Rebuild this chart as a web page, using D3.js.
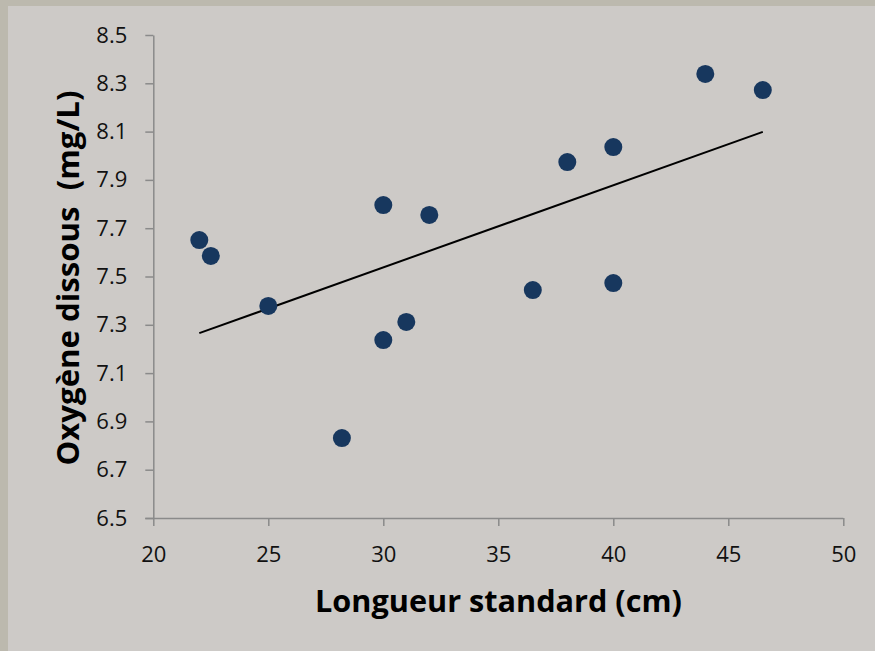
<!DOCTYPE html>
<html>
<head>
<meta charset="utf-8">
<script src="https://cdn.jsdelivr.net/npm/d3@7"></script>
<style>
  html, body { margin: 0; padding: 0; background: #cdcac7; }
  svg { display: block; }
</style>
</head>
<body>
<svg id="chart" width="875" height="651"></svg>
<script>
// Standard length (cm) and dissolved oxygen (mg/L) per sample
const longueur = [22, 22.5, 25, 28.2, 30, 30, 31, 32, 36.5, 38, 40, 40, 44, 46.5];
const oxygene = [7.651, 7.585, 7.378, 6.831, 7.796, 7.237, 7.312, 7.755, 7.444, 7.974, 8.036, 7.473, 8.339, 8.272];

const xTicks = [20, 25, 30, 35, 40, 45, 50];
const yTicks = [6.5, 6.7, 6.9, 7.1, 7.3, 7.5, 7.7, 7.9, 8.1, 8.3, 8.5];

const xTitle = "Longueur standard (cm)";
const yTitle = "Oxygène dissous  (mg/L)";

const W = 875, H = 651;
const plot = { left: 153.3, right: 843.3, top: 35, bottom: 518 };
const font = "'Open Sans', 'Noto Sans', sans-serif";
const axisColor = "#8a8a8a";

const svg = d3.select("#chart");

// frame: light panel with a darker band on the left and top
svg.append("rect").attr("width", W).attr("height", H).attr("fill", "#cdcac7");
svg.append("rect").attr("x", 0).attr("y", 0).attr("width", 8).attr("height", H).attr("fill", "#bcb9ae");
svg.append("rect").attr("x", 0).attr("y", 0).attr("width", W).attr("height", 6).attr("fill", "#bcb9ae");

const x = d3.scaleLinear().domain([20, 50]).range([plot.left, plot.right]);
const y = d3.scaleLinear().domain([6.5, 8.5]).range([plot.bottom, plot.top]);

// x axis
const xAxis = svg.append("g")
  .attr("transform", `translate(0,${plot.bottom})`)
  .call(d3.axisBottom(x).tickValues(xTicks).tickFormat(d3.format("d")).tickSizeInner(8).tickSizeOuter(0).tickPadding(20));
xAxis.select(".domain").attr("stroke", axisColor).attr("stroke-width", 1.5)
  .attr("d", `M${plot.left - 8},0.5H${plot.right}`);
xAxis.selectAll(".tick line").attr("stroke", axisColor).attr("stroke-width", 1.5);
xAxis.selectAll(".tick text").attr("fill", "#111").style("font-family", font).style("font-size", "22px");

// y axis
const yAxis = svg.append("g")
  .attr("transform", `translate(${plot.left},0)`)
  .call(d3.axisLeft(y).tickValues(yTicks).tickFormat(d3.format(".1f")).tickSizeInner(8).tickSizeOuter(0).tickPadding(18));
yAxis.select(".domain").attr("stroke", axisColor).attr("stroke-width", 1.5);
yAxis.selectAll(".tick line").attr("stroke", axisColor).attr("stroke-width", 1.5);
yAxis.selectAll(".tick text").attr("fill", "#111").style("font-family", font).style("font-size", "22px");

// least-squares trend line over the sampled length range
const mx = d3.mean(longueur), my = d3.mean(oxygene);
let sxy = 0, sxx = 0;
longueur.forEach((v, i) => { sxy += (v - mx) * (oxygene[i] - my); sxx += (v - mx) * (v - mx); });
const slope = sxy / sxx, intercept = my - slope * mx;
const [x0, x1] = d3.extent(longueur);
svg.append("line")
  .attr("x1", x(x0)).attr("y1", y(intercept + slope * x0))
  .attr("x2", x(x1)).attr("y2", y(intercept + slope * x1))
  .attr("stroke", "#000").attr("stroke-width", 2);

// sample points
svg.append("g").selectAll("circle")
  .data(longueur.map((v, i) => [v, oxygene[i]]))
  .join("circle")
  .attr("cx", d => x(d[0]))
  .attr("cy", d => y(d[1]))
  .attr("r", 9)
  .attr("fill", "#17375e");

// axis titles, sized so each spans its target width
function fitTitle(sel, width, startSize) {
  sel.style("font-size", startSize + "px");
  const w = sel.node().getComputedTextLength();
  sel.style("font-size", (startSize * width / w).toFixed(2) + "px");
}

const xt = svg.append("text")
  .attr("x", 498.5).attr("y", 612)
  .attr("text-anchor", "middle")
  .style("font-family", font).style("font-weight", "bold")
  .attr("fill", "#000")
  .text(xTitle);
fitTitle(xt, 367, 26);

const yt = svg.append("text")
  .attr("transform", "translate(79,278) rotate(-90)")
  .attr("text-anchor", "middle")
  .style("font-family", font).style("font-weight", "bold")
  .style("white-space", "pre")
  .attr("xml:space", "preserve")
  .attr("fill", "#000")
  .text(yTitle);
fitTitle(yt, 375, 26);
</script>
</body>
</html>
